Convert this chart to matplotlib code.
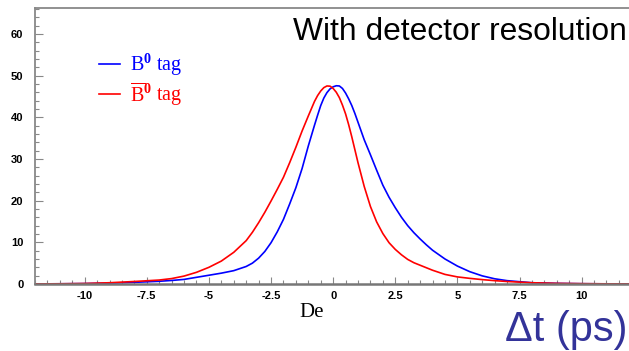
import matplotlib
matplotlib.use("Agg")
import matplotlib.pyplot as plt
from matplotlib.ticker import MultipleLocator, FormatStrFormatter

plt.rcParams['axes.unicode_minus'] = False
plt.rcParams['mathtext.fontset'] = 'custom'
plt.rcParams['mathtext.rm'] = 'Liberation Serif'
plt.rcParams['mathtext.it'] = 'Liberation Serif:italic'
plt.rcParams['mathtext.bf'] = 'Liberation Serif:bold'

# delta t (ps)
dt = [-12, -11, -10, -9, -8, -7, -6.5, -6, -5.5, -5, -4.5, -4, -3.5, -3.25, -3,
      -2.75, -2.5, -2.25, -2, -1.75, -1.5, -1.25, -1, -0.75, -0.625, -0.5,
      -0.375, -0.25, -0.125, 0, 0.125, 0.25, 0.375, 0.5, 0.625, 0.75, 0.875,
      1, 1.25, 1.5, 1.75, 2, 2.25, 2.5, 2.75, 3, 3.25, 3.5, 3.75, 4, 4.5, 5,
      5.5, 6, 6.5, 7, 8, 9, 10, 11, 12]

b0_tag = [0.02, 0.05, 0.1, 0.2, 0.4, 0.65, 0.85, 1.1, 1.6, 2.1, 2.6, 3.2, 4.2,
          5.0, 6.2, 7.8, 9.9, 12.5, 15.5, 19.2, 23.1, 27.7, 33.1, 38.1, 40.5,
          42.8, 44.6, 45.9, 46.8, 47.3, 47.55, 47.5, 46.9, 45.8, 44.4, 42.8,
          40.9, 38.8, 34.6, 31.0, 27.3, 23.7, 20.8, 18.3, 16.0, 14.0, 12.3,
          10.8, 9.4, 8.1, 6.0, 4.3, 2.95, 1.95, 1.25, 0.8, 0.3, 0.14, 0.07,
          0.03, 0.02]

b0bar_tag = [0.02, 0.05, 0.12, 0.3, 0.6, 0.95, 1.3, 1.9, 2.8, 4.0, 5.5, 7.6,
             10.4, 12.4, 14.7, 17.2, 19.9, 22.7, 25.6, 29.1, 32.8, 36.7, 40.3,
             43.8, 45.2, 46.3, 47.1, 47.5, 47.45, 46.9, 46.0, 44.7, 42.9, 40.8,
             38.2, 35.3, 32.2, 29.1, 23.4, 18.6, 14.9, 12.1, 9.9, 8.3, 7.0, 5.9,
             5.1, 4.5, 3.9, 3.3, 2.3, 1.7, 1.35, 1.05, 0.8, 0.6, 0.3, 0.15, 0.08,
             0.04, 0.02]

labels = [r'$\mathrm{B}^{\mathbf{0}}$ tag', r'$\overline{\mathrm{B}}^{\mathbf{0}}$ tag']

fig = plt.figure(figsize=(6.29, 3.51), dpi=100)
ax = fig.add_axes([0.0556, 0.1909, 0.9481, 0.7863])

ax.plot(dt, b0_tag, color='#0000ff', lw=1.2, solid_joinstyle='round', label=labels[0])
ax.plot(dt, b0bar_tag, color='#ff0000', lw=1.2, solid_joinstyle='round', label=labels[1])

ax.set_xlim(-12, 12)
ax.set_ylim(0, 66.2)

for side in ['left', 'bottom', 'top', 'right']:
    ax.spines[side].set_color('#888888')
ax.spines['bottom'].set_linewidth(1.8)
ax.spines['bottom'].set_color('#777777')
ax.spines['left'].set_linewidth(1.3)
ax.spines['top'].set_linewidth(1.3)

ax.xaxis.set_major_locator(MultipleLocator(2.5))
ax.xaxis.set_minor_locator(MultipleLocator(0.5))
ax.yaxis.set_major_locator(MultipleLocator(10))
ax.yaxis.set_minor_locator(MultipleLocator(2))
ax.xaxis.set_major_formatter(FormatStrFormatter('%g'))
ax.yaxis.set_major_formatter(FormatStrFormatter('%g'))

ax.tick_params(axis='both', which='both', direction='in', color='#888888', width=0.8,
               top=False, right=False)
ax.tick_params(axis='x', which='major', length=5, pad=5)
ax.tick_params(axis='x', which='minor', length=2.8)
ax.tick_params(axis='y', which='major', length=5.8, pad=8.3)
ax.tick_params(axis='y', which='minor', length=3)
for lab in ax.get_xticklabels() + ax.get_yticklabels():
    lab.set_fontfamily('Liberation Sans')
    lab.set_fontweight('bold')
    lab.set_fontsize(8)

leg = ax.legend(loc='upper left', bbox_to_anchor=(0.094, 0.87), frameon=False,
                handlelength=1.05, handletextpad=0.5, labelspacing=0.1,
                borderaxespad=0, prop={'family': 'Liberation Serif', 'size': 14.5})
for txt, ln in zip(leg.get_texts(), leg.get_lines()):
    txt.set_color(ln.get_color())

fig.text(0.997, 0.886, 'With detector resolution', ha='right', va='baseline',
         fontsize=22.9, family='Liberation Sans', color='black')
fig.text(0.998, 0.028, '\u0394t (ps)', ha='right', va='baseline',
         fontsize=30, family='Liberation Sans', color='#333399')
fig.text(0.476, 0.097, 'De', ha='left', va='baseline',
         fontsize=15, family='Liberation Serif', color='black')

fig.savefig('out.png', dpi=100)
